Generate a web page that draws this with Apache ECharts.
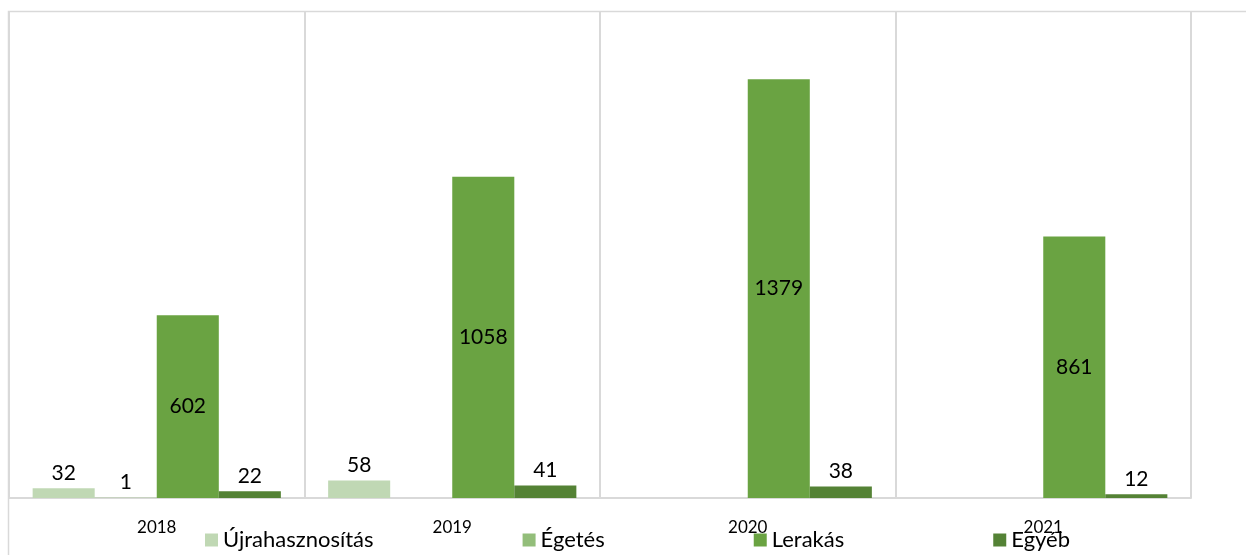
<!DOCTYPE html>
<html>
<head>
<meta charset="utf-8">
<script src="https://cdn.jsdelivr.net/npm/echarts@6/dist/echarts.min.js"></script>
<style>
  html, body { margin: 0; padding: 0; background: #fff; }
  #chart { width: 1246px; height: 555px; }
</style>
</head>
<body>
<div id="chart"></div>
<script>
// évek
var years = ['2018', '2019', '2020', '2021'];
var seriesNames = ['Újrahasznosítás', 'Égetés', 'Lerakás', 'Egyéb'];
var ujrahasznositas = [32, 58, null, null];
var egetes = [1, null, null, null];
var lerakas = [602, 1058, 1379, 861];
var egyeb = [22, 41, 38, 12];
var colors = ['#C0D8B4', '#93BE7A', '#6AA342', '#548235'];

var chart = echarts.init(document.getElementById('chart'));

function bar(name, data, color, pos) {
  return {
    name: name,
    type: 'bar',
    data: data,
    barGap: 0,
    barCategoryGap: '16%',
    itemStyle: { color: color },
    label: {
      show: true,
      position: pos,
      distance: 5,
      color: '#000',
      fontFamily: 'Lato',
      fontSize: 21
    }
  };
}

chart.setOption({
  animation: false,
  color: colors,
  // külső keret
  graphic: [{
    type: 'rect',
    shape: { x: 8.5, y: 11.5, width: 1400, height: 700 },
    style: { fill: 'none', stroke: '#d9d9d9', lineWidth: 1.5 },
    silent: true,
    z: -1
  }],
  grid: { left: 9, right: 55, top: 12, bottom: 57 },
  legend: {
    data: seriesNames,
    left: 200,
    top: 524,
    itemWidth: 13,
    itemHeight: 13,
    itemGap: 149,
    icon: 'rect',
    textStyle: { fontFamily: 'Lato', fontSize: 22, color: '#000' }
  },
  xAxis: {
    type: 'category',
    data: years,
    axisLine: { lineStyle: { color: '#d9d9d9', width: 2 } },
    axisTick: { show: false },
    splitLine: { show: true, lineStyle: { color: '#d9d9d9', width: 2 } },
    axisLabel: { margin: 21, fontFamily: 'Lato', fontSize: 17, color: '#000' }
  },
  yAxis: {
    type: 'value',
    min: 0,
    max: 1600,
    show: false,
    splitLine: { show: false }
  },
  series: [
    bar(seriesNames[0], ujrahasznositas, colors[0], 'top'),
    bar(seriesNames[1], egetes, colors[1], 'top'),
    bar(seriesNames[2], lerakas, colors[2], 'inside'),
    bar(seriesNames[3], egyeb, colors[3], 'top')
  ]
});
</script>
</body>
</html>
